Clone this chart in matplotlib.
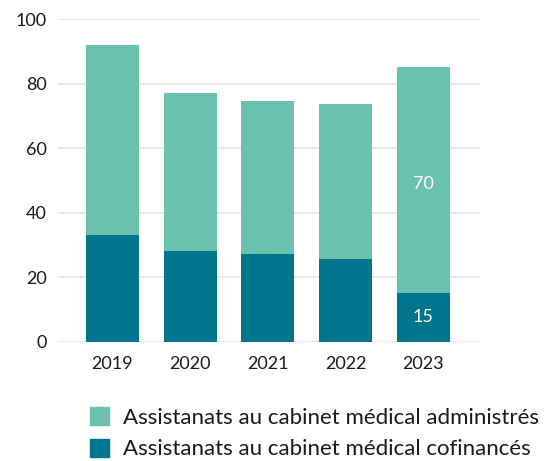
import matplotlib
matplotlib.use("Agg")
from matplotlib import pyplot as plt
from matplotlib.patches import Patch

plt.rcParams["font.family"] = ["Lato", "DejaVu Sans"]

years = ["2019", "2020", "2021", "2022", "2023"]
cofinances = [33, 28, 27.2, 25.6, 15]
administres = [59, 49, 47.4, 48.1, 70]
yticks = [0, 20, 40, 60, 80, 100]

light = "#6AC1AD"
dark = "#00758C"
txt = "#1a1a1a"

fig = plt.figure(figsize=(5.47, 4.61), dpi=100)
ax = fig.add_axes([58 / 547, 1 - 341.7 / 461, (480 - 58) / 547, (341.7 - 19) / 461])

x = range(len(years))
ax.bar(x, cofinances, width=0.68, color=dark, zorder=3)
ax.bar(x, administres, width=0.68, bottom=cofinances, color=light, zorder=3)

# value labels only on last year
ax.text(4, cofinances[4] / 2, "15", color="white", ha="center", va="center", fontsize=13, zorder=4)
ax.text(4, cofinances[4] + administres[4] / 2 - 1, "70", color="white", ha="center", va="center", fontsize=13, zorder=4)

ax.set_ylim(0, 100)
ax.set_xlim(-0.7, 4.73)
ax.set_yticks(yticks)
ax.set_xticks(list(x))
ax.set_xticklabels(years)
ax.grid(axis="y", color="#e4e4e4", linewidth=1.2, zorder=0)
ax.tick_params(axis="both", length=0, labelsize=13, colors=txt)
ax.tick_params(axis="x", pad=10)
ax.tick_params(axis="y", pad=8)
for s in ax.spines.values():
    s.set_visible(False)

handles = [Patch(color=light, label="Assistanats au cabinet médical administrés"),
           Patch(color=dark, label="Assistanats au cabinet médical cofinancés")]
fig.legend(handles=handles, loc="upper left", bbox_to_anchor=(90 / 547, 1 - 407 / 461),
           frameon=False, fontsize=16, handlelength=0.86, handleheight=0.86,
           handletextpad=0.62, labelspacing=0.5, borderaxespad=0, borderpad=0,
           labelcolor=txt)

fig.savefig("out.png", dpi=100)
